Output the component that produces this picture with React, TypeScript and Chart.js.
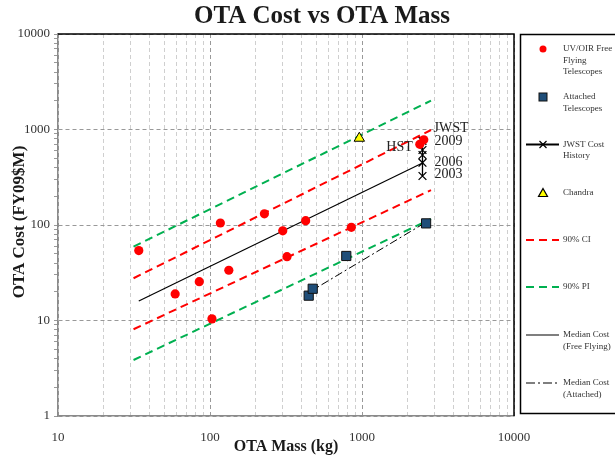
import React, { useEffect, useRef } from 'react';
import { Chart, registerables } from 'chart.js';
Chart.register(...registerables);

// ---------- data ----------
const freeFlyingMass = [34, 59, 85, 103, 117, 133, 228, 301, 321, 426, 851, 2400, 2550];
const freeFlyingCost = [54, 19, 25.5, 10.4, 105, 33.6, 131, 87, 46.6, 111, 94.6, 700, 780];
const attachedMass = [446, 474, 788, 2640];
const attachedCost = [18.2, 21.5, 47.4, 104];
const jwstMass = [2500, 2500, 2500, 2500, 2500];
const jwstCost = [326, 449, 541, 610, 760];
const jwstYears = ['2003', '2006', '', '', '2009'];
const chandraMass = [960];
const chandraCost = [810];
const bandMass = [31.4, 2844];
const ciUpper = [27.7, 988];
const ciLower = [8.1, 232];
const piUpper = [59.3, 2003];
const piLower = [3.86, 115.6];
const medianFreeMass = [34, 2500];
const medianFreeCost = [16, 446];
const medianAttMass = [440, 2640];
const medianAttCost = [19.4, 107];

const xTickValues = [10, 20, 30, 40, 50, 60, 70, 80, 90, 100, 200, 300, 400, 500, 600, 700, 800, 900, 1000, 2000, 3000, 4000, 5000, 6000, 7000, 8000, 9000, 10000];
const yTickValues = [1, 2, 3, 4, 5, 6, 7, 8, 9, 10, 20, 30, 40, 50, 60, 70, 80, 90, 100, 200, 300, 400, 500, 600, 700, 800, 900, 1000, 2000, 3000, 4000, 5000, 6000, 7000, 8000, 9000, 10000];
const majorTicks = [1, 10, 100, 1000, 10000];

const legendItems = [
  { kind: 'dot', lines: ['UV/OIR Free', 'Flying', 'Telescopes'], y: 49 },
  { kind: 'square', lines: ['Attached', 'Telescopes'], y: 97 },
  { kind: 'jwst', lines: ['JWST Cost', 'History'], y: 144.5 },
  { kind: 'tri', lines: ['Chandra'], y: 193 },
  { kind: 'ci', lines: ['90% CI'], y: 240 },
  { kind: 'pi', lines: ['90% PI'], y: 287 },
  { kind: 'medFree', lines: ['Median Cost', '(Free Flying)'], y: 335 },
  { kind: 'medAtt', lines: ['Median Cost', '(Attached)'], y: 383 },
];

const SERIF = "'Liberation Serif', 'Times New Roman', serif";
const RED = '#ff0000';
const GREEN = '#00b050';
const BLUE = '#1f4e79';

const pts = (xs: number[], ys: number[]) => xs.map((x, i) => ({ x, y: ys[i] }));
const isMajor = (v: number) => majorTicks.includes(v);

const drawPlugin = {
  id: 'customDraw',
  afterDraw(chart: any) {
    const ctx = chart.ctx as CanvasRenderingContext2D;
    const { left, right, top, bottom } = chart.chartArea;
    const xs = chart.scales.x;
    const ys = chart.scales.y;
    ctx.save();
    // top / right plot border
    ctx.strokeStyle = '#000';
    ctx.lineWidth = 1.5;
    ctx.setLineDash([]);
    ctx.beginPath();
    ctx.moveTo(left, top);
    ctx.lineTo(right, top);
    ctx.lineTo(right, bottom);
    ctx.stroke();

    // title
    ctx.fillStyle = '#1a1a1a';
    ctx.font = `bold 25px ${SERIF}`;
    ctx.textAlign = 'center';
    ctx.textBaseline = 'middle';
    ctx.fillText('OTA Cost vs OTA Mass', 322, 17);

    // axis titles
    ctx.font = `bold 16px ${SERIF}`;
    ctx.fillText('OTA Mass (kg)', (left + right) / 2, 447);
    ctx.save();
    ctx.font = `bold 17px ${SERIF}`;
    ctx.translate(20, (top + bottom) / 2 - 3);
    ctx.rotate(-Math.PI / 2);
    ctx.fillText('OTA Cost (FY09$M)', 0, 0);
    ctx.restore();

    // annotations
    ctx.font = `14px ${SERIF}`;
    ctx.fillStyle = '#222';
    ctx.textAlign = 'left';
    const jx = xs.getPixelForValue(jwstMass[0]);
    const jTop = ys.getPixelForValue(jwstCost[jwstCost.length - 1]);
    ctx.fillText('JWST', jx + 11, jTop - 13);
    jwstYears.forEach((yr, i) => {
      if (!yr) return;
      const py = ys.getPixelForValue(jwstCost[i]);
      ctx.fillText(yr, jx + 12, i === 0 ? py - 2 : py);
    });
    ctx.textAlign = 'right';
    const hx = xs.getPixelForValue(freeFlyingMass[11]);
    const hy = ys.getPixelForValue(freeFlyingCost[11]);
    ctx.fillText('HST', hx - 7, hy + 3);

    // legend box
    ctx.strokeStyle = '#000';
    ctx.lineWidth = 1.5;
    ctx.setLineDash([]);
    ctx.strokeRect(520.5, 34.5, 110, 379);
    const sx = 543;
    legendItems.forEach((it) => {
      const y = it.y;
      ctx.save();
      ctx.setLineDash([]);
      if (it.kind === 'dot') {
        ctx.fillStyle = RED;
        ctx.beginPath();
        ctx.arc(sx, y, 3.5, 0, Math.PI * 2);
        ctx.fill();
      } else if (it.kind === 'square') {
        ctx.fillStyle = BLUE;
        ctx.strokeStyle = '#111';
        ctx.lineWidth = 1;
        ctx.fillRect(sx - 4, y - 4, 8, 8);
        ctx.strokeRect(sx - 4, y - 4, 8, 8);
      } else if (it.kind === 'jwst') {
        ctx.strokeStyle = '#000';
        ctx.lineWidth = 2;
        ctx.beginPath();
        ctx.moveTo(526, y);
        ctx.lineTo(559, y);
        ctx.stroke();
        ctx.lineWidth = 1.2;
        ctx.beginPath();
        ctx.moveTo(sx - 3.5, y - 3.5);
        ctx.lineTo(sx + 3.5, y + 3.5);
        ctx.moveTo(sx - 3.5, y + 3.5);
        ctx.lineTo(sx + 3.5, y - 3.5);
        ctx.stroke();
      } else if (it.kind === 'tri') {
        ctx.fillStyle = '#ffff00';
        ctx.strokeStyle = '#000';
        ctx.lineWidth = 1.2;
        ctx.beginPath();
        ctx.moveTo(sx, y - 4.5);
        ctx.lineTo(sx + 4.5, y + 3.5);
        ctx.lineTo(sx - 4.5, y + 3.5);
        ctx.closePath();
        ctx.fill();
        ctx.stroke();
      } else {
        let color = '#000';
        let width = 2;
        let dash: number[] = [];
        if (it.kind === 'ci') { color = RED; dash = [8, 5]; }
        if (it.kind === 'pi') { color = GREEN; dash = [8, 5]; }
        if (it.kind === 'medFree') { color = '#555'; width = 1.5; }
        if (it.kind === 'medAtt') { color = '#000'; width = 1.2; dash = [9, 3, 2, 3]; }
        ctx.strokeStyle = color;
        ctx.lineWidth = width;
        ctx.setLineDash(dash);
        ctx.beginPath();
        ctx.moveTo(526, y);
        ctx.lineTo(559, y);
        ctx.stroke();
      }
      ctx.restore();
      ctx.fillStyle = '#333';
      ctx.font = `9px ${SERIF}`;
      ctx.textAlign = 'left';
      ctx.textBaseline = 'middle';
      it.lines.forEach((t, k) => ctx.fillText(t, 563, y + k * 11.5));
    });
    ctx.restore();
  },
};

export default function App() {
  const ref = useRef<HTMLCanvasElement | null>(null);
  useEffect(() => {
    if (!ref.current) return;
    const lineDs = (label: string, data: any[], color: string, width: number, dash: number[]) => ({
      label,
      data,
      showLine: true,
      borderColor: color,
      backgroundColor: color,
      borderWidth: width,
      borderDash: dash,
      pointRadius: 0,
      fill: false,
    });
    const chart = new Chart(ref.current, {
      type: 'scatter',
      data: {
        datasets: [
          {
            label: 'Chandra',
            data: pts(chandraMass, chandraCost),
            pointStyle: 'triangle',
            pointRadius: 6,
            backgroundColor: '#ffff00',
            borderColor: '#000',
            borderWidth: 1,
          } as any,
          {
            label: 'UV/OIR Free Flying Telescopes',
            data: pts(freeFlyingMass, freeFlyingCost),
            pointStyle: 'circle',
            pointRadius: 4.6,
            backgroundColor: RED,
            borderColor: RED,
            borderWidth: 0,
          },
          {
            label: 'Attached Telescopes',
            data: pts(attachedMass, attachedCost),
            pointStyle: 'rect',
            pointRadius: 6.5,
            backgroundColor: BLUE,
            borderColor: '#111',
            borderWidth: 1,
          },
          {
            label: 'JWST Cost History',
            data: pts(jwstMass, jwstCost),
            showLine: true,
            pointStyle: 'crossRot',
            pointRadius: 5.5,
            borderColor: '#000',
            backgroundColor: '#000',
            borderWidth: 1.3,
          },
          lineDs('Median Cost (Free Flying)', pts(medianFreeMass, medianFreeCost), '#000', 1.2, []),
          lineDs('Median Cost (Attached)', pts(medianAttMass, medianAttCost), '#000', 1, [8, 3, 2, 3]),
          lineDs('90% CI upper', pts(bandMass, ciUpper), RED, 2, [8, 5]),
          lineDs('90% CI lower', pts(bandMass, ciLower), RED, 2, [8, 5]),
          lineDs('90% PI upper', pts(bandMass, piUpper), GREEN, 2, [8, 5]),
          lineDs('90% PI lower', pts(bandMass, piLower), GREEN, 2, [8, 5]),
        ],
      },
      options: {
        animation: false,
        responsive: true,
        maintainAspectRatio: false,
        layout: { padding: { top: 34, right: 101, left: 0, bottom: 0 } },
        plugins: { legend: { display: false }, tooltip: { enabled: false }, title: { display: false } },
        scales: {
          x: {
            type: 'logarithmic',
            min: 10,
            max: 10000,
            afterBuildTicks: (scale: any) => {
              scale.ticks = xTickValues.map((v) => ({ value: v, major: isMajor(v) }));
            },
            afterFit: (scale: any) => { scale.height = 41; },
            ticks: {
              autoSkip: false,
              maxRotation: 0,
              padding: 14,
              color: '#333',
              font: { family: SERIF, size: 13 },
              callback: (v: any) => (isMajor(Number(v)) ? String(v) : ''),
            },
            grid: {
              drawTicks: false,
              color: (c: any) => (c.tick && c.tick.major ? '#999' : '#cfcfcf'),
              lineWidth: 1,
            },
            border: { color: '#8a8a8a', width: 1.5, dash: [4, 3] },
          },
          y: {
            type: 'logarithmic',
            min: 1,
            max: 10000,
            afterBuildTicks: (scale: any) => {
              scale.ticks = yTickValues.map((v) => ({ value: v, major: isMajor(v) }));
            },
            afterFit: (scale: any) => { scale.width = 58; },
            ticks: {
              autoSkip: false,
              padding: 4,
              color: '#333',
              font: { family: SERIF, size: 13 },
              callback: (v: any) => (isMajor(Number(v)) ? String(v) : ''),
            },
            grid: {
              drawTicks: true,
              tickLength: 4,
              tickColor: '#999',
              color: (c: any) => (c.tick && c.tick.major ? '#999' : 'rgba(0,0,0,0)'),
              lineWidth: 1,
            },
            border: { color: '#8a8a8a', width: 1.5, dash: [4, 3] },
          },
        },
      } as any,
      plugins: [drawPlugin],
    });
    return () => chart.destroy();
  }, []);
  return (
    <div style={{ position: 'fixed', left: 0, top: 0, width: 615, height: 457, background: '#fff' }}>
      <canvas ref={ref} />
    </div>
  );
}
